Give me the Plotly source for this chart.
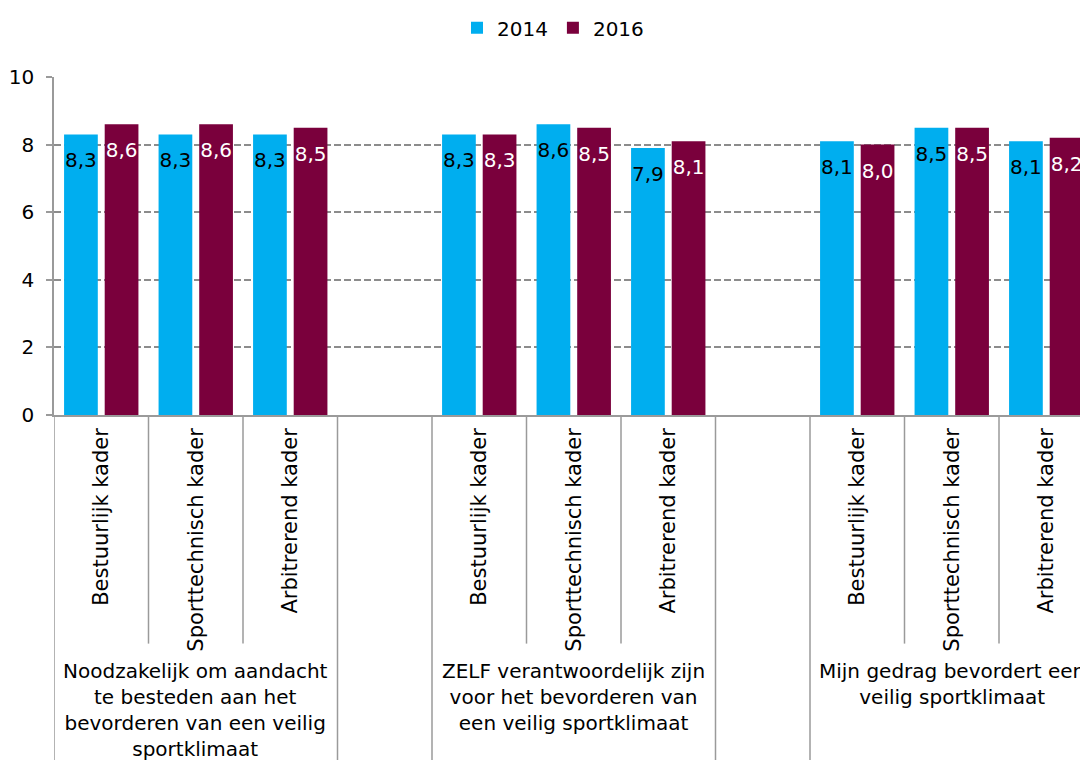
import plotly.graph_objects as go

# ---- data ----
groups = [
    "Noodzakelijk om aandacht<br>te besteden aan het<br>bevorderen van een veilig<br>sportklimaat",
    "ZELF verantwoordelijk zijn<br>voor het bevorderen van<br>een veilig sportklimaat",
    "Mijn gedrag bevordert een<br>veilig sportklimaat",
]
subcats = ["Bestuurlijk kader", "Sporttechnisch kader", "Arbitrerend kader"]
series_names = ["2014", "2016"]
values_2014 = [[8.3, 8.3, 8.3], [8.3, 8.6, 7.9], [8.1, 8.5, 8.1]]
values_2016 = [[8.6, 8.6, 8.5], [8.3, 8.5, 8.1], [8.0, 8.5, 8.2]]
y_ticks = [0, 2, 4, 6, 8, 10]

# ---- style ----
colors = ["#00AEEF", "#7A003C"]
text_colors = ["black", "white"]
FONT = "DejaVu Sans"
GRAY = "#9a9a9a"

# page has an 8px body margin; figure is sized/offset to compensate
W, H = 1080, 752
ML, MT, MB = 46, 64, 345
plot_h = H - MT - MB
plot_w = W - ML
slot_px = 94.5

slot = len(subcats) + 1  # one empty slot between groups
positions = [g * slot + s for g in range(len(groups)) for s in range(len(subcats))]


def fmt(v):
    return f"{v:.1f}".replace(".", ",")


fig = go.Figure()
for name, vals, col, tcol in zip(series_names, [values_2014, values_2016], colors, text_colors):
    flat = [v for grp in vals for v in grp]
    fig.add_trace(go.Bar(
        name=name,
        x=positions,
        y=flat,
        marker=dict(color=col, line=dict(width=0)),
        text=["<span style='font-size:4px'>\u00a0</span><br>" + fmt(v) for v in flat],
        textposition="inside",
        insidetextanchor="end",
        textangle=0,
        constraintext="none",
        insidetextfont=dict(color=tcol, size=20, family=FONT),
        hoverinfo="skip",
    ))

shapes = []
# divider lines below the x axis
for g in range(len(groups)):
    base = g * slot
    for s in range(1, len(subcats)):
        shapes.append(dict(type="line", xref="x", yref="paper",
                           x0=base + s - 0.5, x1=base + s - 0.5, y0=0, y1=-232 / plot_h,
                           line=dict(color=GRAY, width=1.5)))
    for xb in (base - 0.5, base + len(subcats) - 0.5):
        shapes.append(dict(type="line", xref="x", yref="paper",
                           x0=xb, x1=xb, y0=0, y1=-1.05,
                           line=dict(color=GRAY, width=1.5)))

annotations = []
for g, label in enumerate(groups):
    annotations.append(dict(
        x=g * slot + (len(subcats) - 1) / 2, xref="x",
        y=-246 / plot_h, yref="paper",
        text=label, showarrow=False, xanchor="center", yanchor="top",
        align="center", font=dict(size=20, family=FONT, color="black"),
    ))

fig.update_layout(
    width=W, height=H,
    margin=dict(l=ML, r=0, t=MT, b=MB),
    plot_bgcolor="white", paper_bgcolor="white",
    font=dict(family=FONT, size=20, color="black"),
    barmode="group", bargap=0.14, bargroupgap=0.17,
    showlegend=True,
    legend=dict(orientation="h", x=0.5 - 18 / plot_w, xanchor="center",
                y=1 + 50 / plot_h, yanchor="middle",
                font=dict(size=20, family=FONT), itemwidth=30, traceorder="normal"),
    shapes=shapes,
    annotations=annotations,
)
fig.update_xaxes(
    range=[-0.5, -0.5 + plot_w / slot_px],
    tickmode="array",
    tickvals=positions,
    ticktext=[subcats[s] for g in range(len(groups)) for s in range(len(subcats))],
    tickangle=-90,
    showgrid=False, zeroline=False,
    showline=True, linecolor=GRAY, linewidth=1.5,
    ticks="", ticklabelstandoff=3,
    tickfont=dict(size=21, family=FONT, color="black"),
)
fig.update_yaxes(
    range=[0, 10],
    tickmode="array", tickvals=y_ticks, ticktext=[str(t) for t in y_ticks],
    showgrid=True, gridcolor="#8c8c8c", gridwidth=1.5, griddash="7px,3px",
    zeroline=False,
    showline=True, linecolor=GRAY, linewidth=1.5,
    ticks="outside", ticklen=6, tickcolor=GRAY, tickwidth=1.5,
    ticklabelstandoff=8,
    tickfont=dict(size=20, family=FONT, color="black"),
)

fig.write_html("out.html")
